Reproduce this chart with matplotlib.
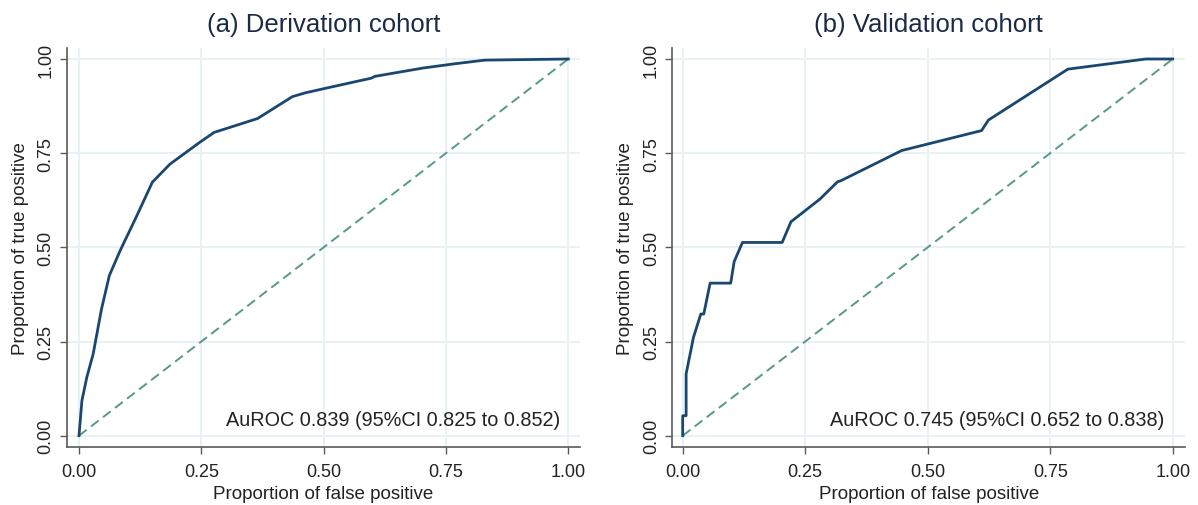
import matplotlib
matplotlib.use("Agg")
import matplotlib.pyplot as plt

plt.rcParams['font.family'] = ['Liberation Sans', 'DejaVu Sans']

# Panel (a) derivation cohort ROC
deriv_fpr = [0, 0.006, 0.016, 0.029, 0.046, 0.062, 0.084, 0.115, 0.150, 0.186, 0.247,
             0.276, 0.365, 0.436, 0.462, 0.503, 0.597, 0.605, 0.703, 0.766, 0.829, 1.0]
deriv_tpr = [0, 0.093, 0.155, 0.217, 0.336, 0.425, 0.491, 0.575, 0.673, 0.721, 0.779,
             0.805, 0.842, 0.900, 0.910, 0.922, 0.949, 0.954, 0.976, 0.987, 0.997, 1.0]

# Panel (b) validation cohort ROC
valid_fpr = [0, 0, 0.007, 0.007, 0.022, 0.037, 0.043, 0.056, 0.098, 0.105, 0.122,
             0.203, 0.221, 0.280, 0.316, 0.323, 0.447, 0.610, 0.624, 0.786, 0.945, 1.0]
valid_tpr = [0, 0.053, 0.053, 0.164, 0.261, 0.323, 0.323, 0.405, 0.405, 0.462, 0.513,
             0.513, 0.568, 0.628, 0.674, 0.677, 0.757, 0.810, 0.838, 0.973, 1.0, 1.0]

titles = ["(a) Derivation cohort", "(b) Validation cohort"]
auroc_texts = ["AuROC 0.839 (95%CI 0.825 to 0.852)", "AuROC 0.745 (95%CI 0.652 to 0.838)"]
ticks = [0.0, 0.25, 0.5, 0.75, 1.0]
tick_labels = ["0.00", "0.25", "0.50", "0.75", "1.00"]

W, H = 1198, 506
fig = plt.figure(figsize=(W / 100, H / 100), dpi=100)
fig.patch.set_facecolor('white')

# axes rectangles in pixels: (left, right, top, bottom)
rects = [(66.7, 580, 49, 448.3), (672.3, 1185, 49, 448.3)]
xlims = [(-0.0251, 1.0239), (-0.0212, 1.0251)]
ylim = (-0.0308, 1.0292)

line_col = '#1a476f'
ref_col = '#55998a'
grid_col = '#e8f2f5'
axis_col = '#5a5a5a'
text_col = '#222222'
title_col = '#1c2b45'

data = [(deriv_fpr, deriv_tpr), (valid_fpr, valid_tpr)]

for i in range(2):
    l, r, t, b = rects[i]
    ax = fig.add_axes([l / W, 1 - b / H, (r - l) / W, (b - t) / H])
    ax.set_xlim(*xlims[i])
    ax.set_ylim(*ylim)
    for v in ticks:
        ax.axhline(v, color=grid_col, lw=1.4, zorder=0)
        ax.axvline(v, color=grid_col, lw=1.4, zorder=0)
    ax.plot([0, 1], [0, 1], color=ref_col, lw=1.4, dashes=(5.0, 2.8), zorder=2)
    fpr, tpr = data[i]
    ax.plot(fpr, tpr, color=line_col, lw=2.0, zorder=3, solid_joinstyle='round')
    ax.set_xticks(ticks)
    ax.set_xticklabels(tick_labels)
    ax.set_yticks(ticks)
    ax.set_yticklabels(tick_labels, rotation=90, va='center')
    ax.tick_params(axis='both', direction='out', length=5, width=1.0, color=axis_col,
                   labelsize=13, labelcolor=text_col)
    ax.tick_params(axis='x', pad=6)
    ax.tick_params(axis='y', pad=4)
    for s in ['top', 'right']:
        ax.spines[s].set_visible(False)
    for s in ['left', 'bottom']:
        ax.spines[s].set_color(axis_col)
        ax.spines[s].set_linewidth(1.2)
    ax.set_xlabel("Proportion of false positive", fontsize=13.5, color=text_col, labelpad=4)
    ax.set_ylabel("Proportion of true positive", fontsize=13.5, color=text_col, labelpad=6)
    ax.set_title(titles[i], fontsize=18.5, color=title_col, pad=12)
    ax.text(0.983, 0.044, auroc_texts[i], ha='right', va='center', fontsize=14.3,
            color=text_col, zorder=4)

fig.savefig("out.png", dpi=100, facecolor='white')
